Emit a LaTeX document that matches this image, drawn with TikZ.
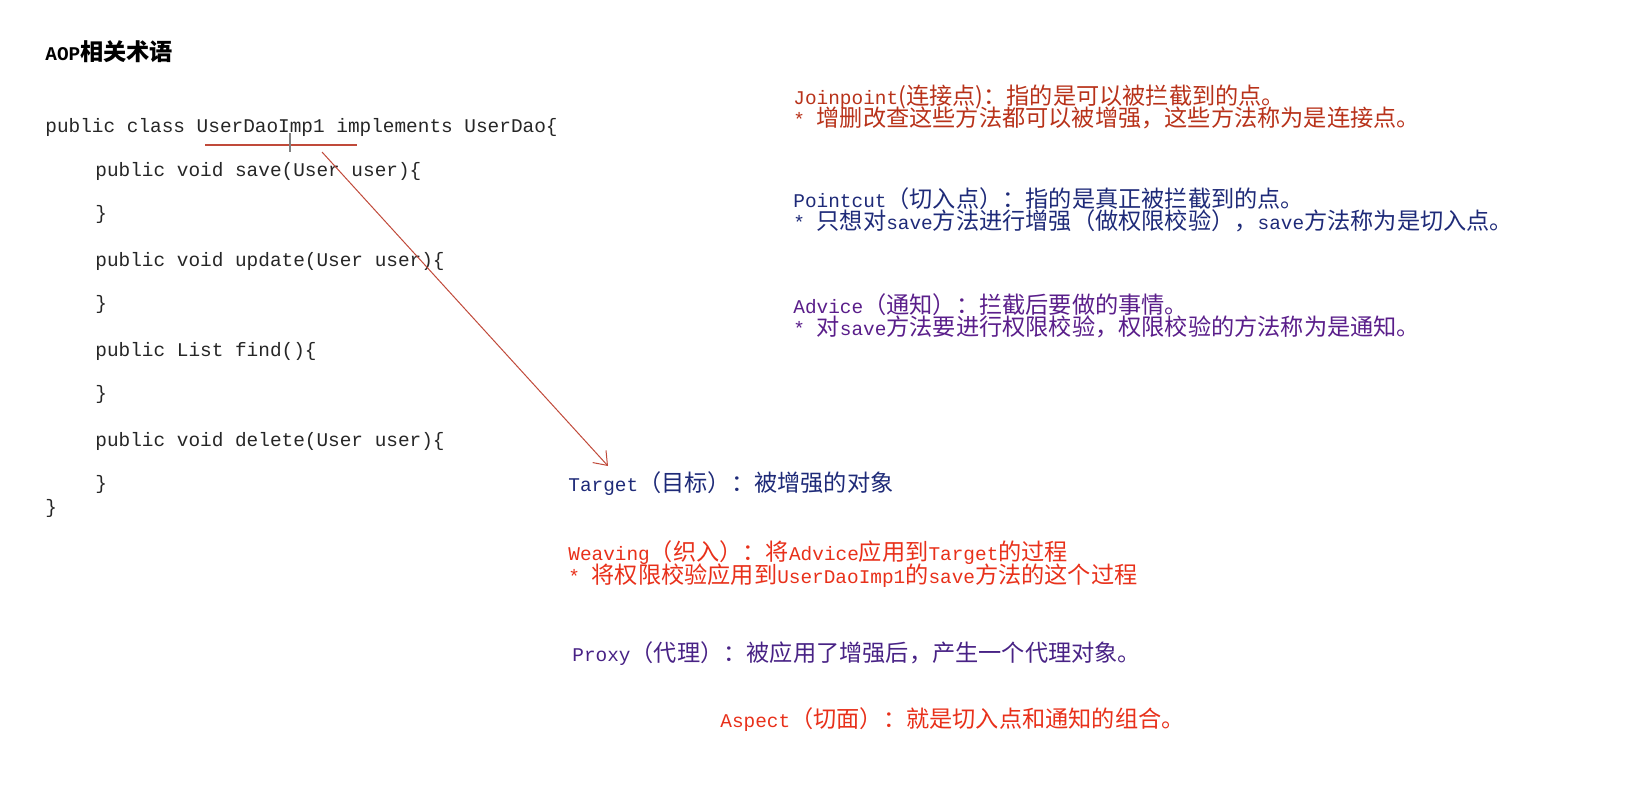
\documentclass[tikz,border=0pt]{standalone}
\usepackage{fontspec}
\setmainfont{Liberation Mono}
\newfontfamily\zhf{Noto Sans CJK SC}
\newcommand{\zh}[1]{{\zhf\fontsize{11.6}{12}\selectfont #1}}
\usetikzlibrary{arrows.meta}
\definecolor{jred}{HTML}{B8321A}
\definecolor{navy}{HTML}{1E2A78}
\definecolor{purp}{HTML}{5A1E8A}
\definecolor{wred}{HTML}{E8301A}
\definecolor{lred}{HTML}{C04A3A}
\begin{document}
\begin{tikzpicture}[x=0.5pt,y=-0.5pt,
  txt/.style={anchor=west,inner sep=0pt,font=\fontsize{9.7}{11}\selectfont},
  code/.style={txt,text=black!85}]
\useasboundingbox (0,0) rectangle (1643,809);
\node[txt] (title) at (45,52) {\textbf{AOP}\zh{\textbf{相关术语}}};
\node[code] (c1) at (45,127) {public class UserDaoImp1 implements UserDao\{};
\node[code] (c2) at (95,171) {public void save(User user)\{};
\node[code] (c3) at (95,214) {\}};
\node[code] (c4) at (95,261) {public void update(User user)\{};
\node[code] (c5) at (95,304) {\}};
\node[code] (c6) at (95,351) {public List find()\{};
\node[code] (c7) at (95,394) {\}};
\node[code] (c8) at (95,441) {public void delete(User user)\{};
\node[code] (c9) at (95,484) {\}};
\node[code] (c10) at (45,508) {\}};
\coordinate (u1) at (205,145); \coordinate (u2) at (357,145);
\coordinate (t1) at (290,133); \coordinate (t2) at (290,152);
\coordinate (a1) at (322,152); \coordinate (a2) at (608,466);
\draw[lred,line width=0.6pt] (u1) -- (u2);
\draw[gray,line width=0.6pt] (t1) -- (t2);
\draw[lred,line width=0.5pt,-{Straight Barb[length=6pt,width=9pt]}] (a1) -- (a2);
\node[txt,text=jred] (jp1) at (793,97) {Joinpoint\zh{(连接点)：指的是可以被拦截到的点。}};
\node[txt,text=jred] (jp2) at (793,118) {* \zh{增删改查这些方法都可以被增强，这些方法称为是连接点。}};
\node[txt,text=navy] (pc1) at (793,199) {Pointcut\zh{（切入点）：指的是真正被拦截到的点。}};
\node[txt,text=navy] (pc2) at (793,221) {* \zh{只想对}save\zh{方法进行增强（做权限校验），}save\zh{方法称为是切入点。}};
\node[txt,text=purp] (ad1) at (793,305) {Advice\zh{（通知）：拦截后要做的事情。}};
\node[txt,text=purp] (ad2) at (793,327) {* \zh{对}save\zh{方法要进行权限校验，权限校验的方法称为是通知。}};
\node[txt,text=navy] (tg) at (568,484) {Target\zh{（目标）：被增强的对象}};
\node[txt,text=wred] (wv1) at (568,553) {Weaving\zh{（织入）：将}Advice\zh{应用到}Target\zh{的过程}};
\node[txt,text=wred] (wv2) at (568,576) {* \zh{将权限校验应用到}UserDaoImp1\zh{的}save\zh{方法的这个过程}};
\node[txt,text=purp!70!navy] (px) at (572,654) {Proxy\zh{（代理）：被应用了增强后，产生一个代理对象。}};
\node[txt,text=wred] (as) at (720,720) {Aspect\zh{（切面）：就是切入点和通知的组合。}};
\end{tikzpicture}
\end{document}
